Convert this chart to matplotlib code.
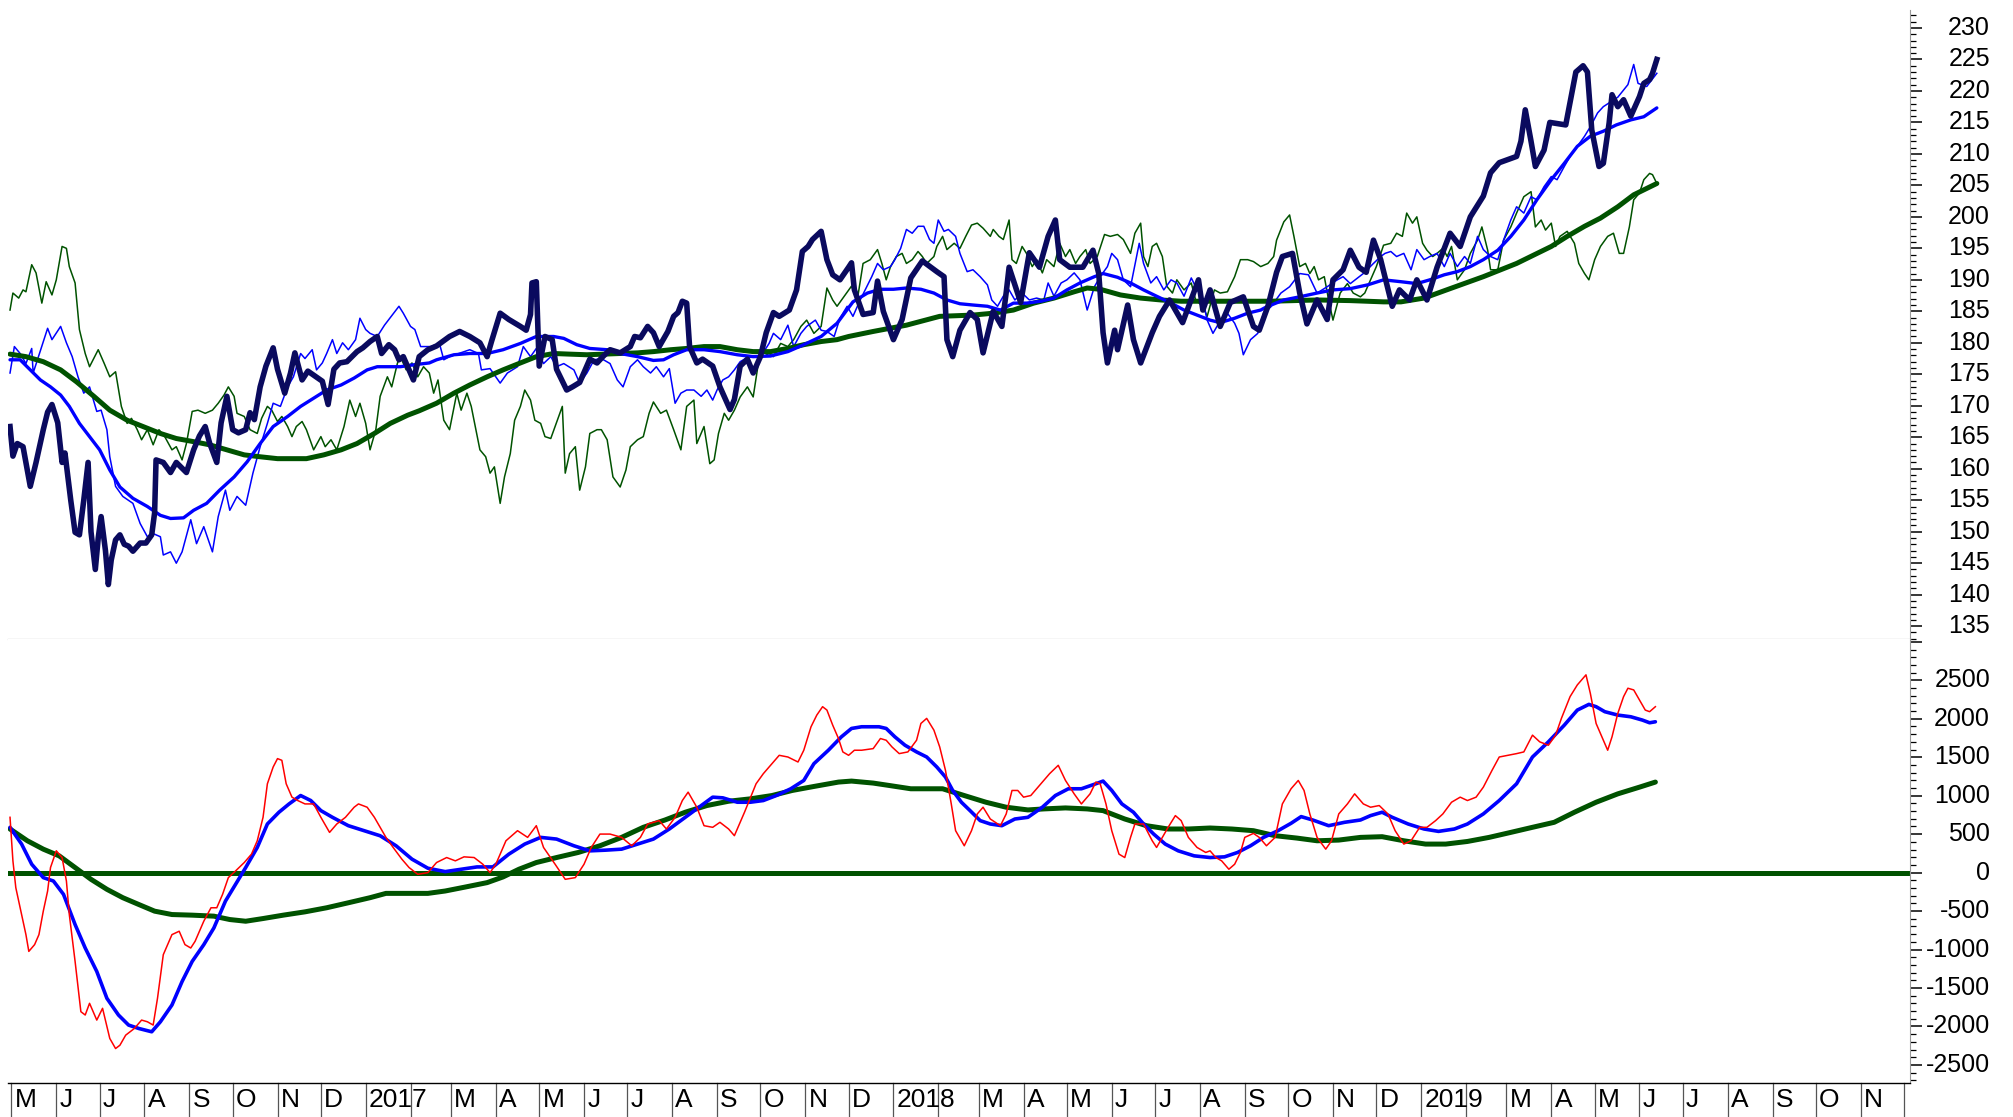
import numpy as np
import pandas as pd
import matplotlib
matplotlib.use("Agg")
import matplotlib.pyplot as plt
import matplotlib.transforms as mtransforms
from matplotlib.ticker import MultipleLocator, NullLocator

plt.rcParams['font.family'] = ['Liberation Sans', 'DejaVu Sans']

# day offsets are counted from this date
origin = pd.Timestamp('2016-05-01')

# ---------------- top panel ----------------
price_day = [-1, 1, 4, 8, 13, 17, 22, 25, 28, 32, 35, 37, 41, 44, 47, 50, 53, 55, 58, 60, 62, 65, 67, 69, 72, 75, 78, 81,
             84, 89, 93, 97, 99, 100, 105, 110, 114, 121, 126, 130, 134, 137, 142, 145, 149, 153, 157, 162, 165, 168,
             172, 176, 181, 184, 189, 193, 196, 201, 205, 210, 215, 219, 223, 227, 232, 239, 243, 248, 253, 256, 261,
             265, 268, 271, 278, 282, 288, 294, 303, 310, 317, 324, 329, 332, 338, 344, 352, 356, 359, 360, 363, 365,
             369, 374, 377, 384, 388, 393, 400, 405, 409, 414, 421, 428, 431, 435, 440, 444, 448, 454, 458, 461, 464,
             467, 469, 474, 478, 485, 490, 497, 500, 504, 509, 513, 518, 522, 527, 531, 538, 543, 547, 551, 554, 560,
             564, 568, 573, 579, 581, 583, 589, 596, 599, 603, 610, 616, 622, 630, 640, 645, 647, 651, 656, 663, 668,
             672, 679, 685, 688, 690, 698, 704, 711, 717, 722, 725, 732, 741, 748, 752, 755, 758, 763, 765, 772, 776,
             781, 789, 794, 801, 810, 821, 824, 829, 836, 843, 852, 859, 863, 869, 875, 879, 886, 891, 896, 903, 910,
             914, 921, 926, 932, 937, 942, 947, 955, 960, 967, 972, 979, 986, 995, 1002, 1009, 1018, 1023, 1029, 1041,
             1044, 1047, 1051, 1054, 1060, 1064, 1075, 1082, 1087, 1090, 1093, 1098, 1101, 1105, 1107, 1111, 1115,
             1120, 1126, 1129, 1133, 1135, 1138]
price_val = [166.7, 162, 164, 163.5, 157.2, 161, 166.2, 169, 170.2, 167.3, 161, 162.5, 155, 149.9, 149.5, 155, 161, 150,
             144, 149, 152.4, 147, 141.6, 145.5, 148.7, 149.5, 148, 147.7, 146.9, 148.2, 148.2, 149.5, 153, 161.4, 161,
             159.4, 161, 159.4, 163, 165.2, 166.7, 164.1, 161, 167.3, 171.5, 166.2, 165.7, 166.2, 168.9, 167.8, 173,
             176.3, 179.2, 175.8, 172, 175.2, 178.4, 174.1, 175.5, 174.7, 173.9, 170.2, 175.8, 176.8, 177, 178.6, 179.2,
             180.2, 181, 178.3, 179.7, 178.9, 177.3, 177.8, 174.1, 177.8, 178.9, 179.5, 181, 181.8, 181, 180, 177.8,
             180.2, 184.7, 183.7, 182.6, 182, 184.5, 189.5, 189.7, 176.3, 181, 180.5, 175.8, 172.5, 173, 173.7, 177.4,
             176.8, 177.8, 178.9, 178.4, 179.4, 181, 180.8, 182.6, 181.6, 179.4, 181.8, 184.2, 184.8, 186.6, 186.3,
             179.4, 176.8, 177.4, 176.3, 173, 169.4, 171, 176.3, 177.4, 175.2, 177.8, 181.6, 184.8, 184.2, 185.2, 188.4,
             194.5, 195.3, 196.4, 197.7, 193.2, 190.8, 190, 192, 192.7, 188.4, 184.5, 184.8, 189.8, 185, 180.5, 183.7,
             190.3, 193, 191.3, 190.5, 180.5, 177.8, 182, 184.8, 183.7, 178.4, 185, 182.6, 188, 192, 186.4, 194.3, 192,
             196.9, 199.5, 193.2, 192, 192, 194.7, 191, 181.6, 176.8, 182, 178.9, 186, 180.5, 176.8, 181.6, 184.2, 186.8,
             183.2, 190, 185.2, 188.4, 182.6, 186.4, 187.3, 182.6, 182, 185.8, 191.2, 193.7, 194.2, 187.9, 183, 186.8,
             183.7, 190, 191.6, 194.7, 192, 191.2, 196.3, 193.2, 185.8, 188.4, 186.8, 190, 186.8, 192, 197.4, 195.3,
             200, 203.3, 207, 208.6, 209.6, 212, 217, 212, 208, 210.6, 215, 214.6, 223, 224, 223, 213.8, 208, 208.5,
             214.9, 219.4, 217.5, 218.6, 216, 219.1, 221.2, 221.8, 222.8, 225]

tblue_day = [-1, 2, 6, 10, 14, 15, 25, 28, 34, 38, 42, 46, 50, 54, 59, 62, 66, 68, 72, 77, 84, 89, 94, 98, 103, 105,
             110, 114, 118, 124, 128, 133, 139, 143, 148, 151, 156, 162, 167, 172, 177, 181, 186, 191, 195, 200, 203,
             208, 211, 215, 218, 222, 225, 229, 233, 238, 241, 245, 248, 253, 258, 268, 271, 276, 279, 283, 290, 296,
             299, 303, 317, 323, 325, 331, 338, 343, 350, 354, 359, 363, 368, 373, 377, 382, 389, 393, 398, 403, 408,
             414, 419, 423, 428, 433, 437, 442, 446, 451, 455, 459, 463, 467, 472, 477, 481, 485, 488, 492, 496, 500,
             504, 510, 516, 519, 524, 527, 532, 537, 541, 546, 550, 556, 560, 564, 569, 573, 578, 582, 587, 595, 599,
             603, 608, 611, 615, 619, 623, 627, 631, 635, 638, 641, 645, 648, 653, 656, 661, 665, 670, 675, 678, 682,
             686, 690, 694, 699, 704, 709, 714, 717, 721, 726, 730, 735, 739, 744, 749, 753, 758, 761, 765, 769, 774,
             780, 783, 788, 792, 797, 802, 806, 811, 816, 819, 824, 827, 831, 835, 841, 846, 849, 852, 857, 862, 866,
             871, 878, 884, 891, 897, 903, 910, 917, 921, 926, 935, 942, 947, 950, 954, 958, 963, 968, 972, 977, 981,
             986, 991, 995, 1000, 1005, 1009, 1014, 1018, 1023, 1028, 1032, 1037, 1041, 1046, 1051, 1055, 1060, 1065,
             1069, 1074, 1078, 1083, 1088, 1092, 1097, 1101, 1111, 1118, 1122, 1125, 1131, 1138]
tblue_val = [175.2, 179.4, 178.3, 176.7, 179.1, 175.2, 182.3, 180.5, 182.6, 180, 177.8, 174.6, 172, 173, 169.1, 169.3,
             166.2, 161.9, 157.2, 155.6, 154.5, 151.3, 149.2, 149.7, 149.2, 146.3, 146.8, 145, 146.8, 151.9, 148.1,
             150.8, 146.8, 152.4, 156.6, 153.4, 155.6, 154.2, 159.3, 163.5, 167.2, 170.4, 169.9, 173, 174.6, 178.3,
             177.5, 178.9, 175.7, 176.8, 178.3, 180.5, 178.3, 180, 178.9, 180.5, 183.9, 182.1, 181.5, 181, 182.8, 185.8,
             184.7, 182.6, 182.1, 179.4, 179.4, 179.9, 177.3, 177.8, 178.9, 178.3, 175.7, 175.9, 173.6, 175.2, 176.2,
             179.4, 177.8, 179.1, 176.7, 177.8, 176.2, 176.7, 175.7, 173.6, 175.2, 177.3, 177.5, 176.7, 174.1, 173,
             176.2, 177.3, 176.2, 175.2, 176.2, 174.6, 175.9, 170.4, 172, 172.5, 172.5, 171.5, 172.5, 170.9, 172.5,
             174.1, 174.6, 175.7, 177, 177.8, 177.8, 178.1, 179.9, 181.5, 180.5, 182.8, 179.4, 181.5, 182.6, 183.6, 182,
             181.8, 181, 183.9, 185.8, 184.2, 186.8, 190.5, 192.6, 191.6, 192.1, 193.2, 195, 198, 197.4, 198.5, 198.5,
             196.4, 195.8, 199.5, 197.7, 198, 196.9, 194.2, 191.3, 191.6, 190.5, 189.2, 186.8, 185.8, 187.4, 188.4,
             186.8, 187.9, 186.8, 187.1, 186.8, 189.5, 187.4, 189.5, 190, 191.1, 190, 185.2, 188.9, 190.5, 192.1, 194.2,
             193.2, 190, 188.9, 195.8, 192.6, 189.5, 190.5, 188.4, 190, 189.5, 187.4, 190.3, 188.9, 186.8, 183.6, 181.5,
             183.1, 184.7, 183.1, 181.5, 178.1, 180.5, 181.5, 184.7, 185.7, 187.9, 188.9, 191, 190.8, 187.9, 188.9, 190,
             190.5, 189.4, 191, 192.6, 193.7, 194.2, 194.5, 193.7, 194.2, 191.6, 194.8, 193.2, 193.7, 194.2, 192.1,
             194.2, 192.1, 193.7, 192.6, 196.9, 194.8, 193.7, 193.2, 196.3, 199.5, 201.6, 200.6, 203.2, 202.7, 204.8,
             206.4, 205.9, 208, 209.6, 211.2, 212.8, 214.3, 216.5, 217.5, 219, 221, 224.2, 221.2, 220.7, 222.8]

tgreen_day = [-1, 1, 5, 8, 10, 14, 17, 21, 24, 28, 31, 35, 38, 40, 44, 47, 51, 54, 60, 64, 68, 72, 76, 80, 83, 87, 90,
              94, 98, 102, 106, 111, 114, 118, 121, 125, 129, 134, 139, 143, 147, 150, 154, 156, 161, 165, 170, 173,
              177, 180, 184, 187, 191, 194, 197, 201, 204, 209, 214, 217, 221, 225, 230, 234, 238, 241, 245, 248, 252,
              255, 260, 263, 267, 269, 273, 277, 281, 285, 289, 292, 295, 299, 303, 308, 311, 315, 318, 324, 328, 331,
              334, 338, 341, 345, 348, 352, 355, 359, 362, 366, 369, 373, 376, 381, 383, 386, 390, 393, 397, 400, 405,
              408, 412, 416, 421, 425, 428, 433, 437, 441, 444, 449, 453, 458, 463, 467, 472, 474, 479, 483, 486, 489,
              493, 496, 500, 504, 509, 513, 518, 520, 524, 527, 532, 537, 541, 546, 550, 555, 560, 564, 568, 571, 576,
              581, 585, 589, 594, 599, 602, 605, 608, 612, 616, 619, 623, 627, 630, 633, 638, 640, 644, 647, 652, 656,
              660, 664, 668, 672, 677, 679, 683, 686, 690, 692, 695, 699, 702, 706, 709, 713, 716, 721, 725, 729, 732,
              736, 739, 743, 746, 751, 756, 760, 765, 769, 774, 777, 781, 783, 786, 789, 792, 796, 799, 803, 806, 811,
              816, 819, 824, 827, 832, 836, 841, 846, 850, 855, 859, 864, 869, 873, 875, 880, 884, 887, 891, 895, 898,
              901, 904, 908, 911, 914, 919, 924, 928, 933, 936, 940, 944, 949, 954, 958, 962, 965, 969, 972, 976, 979,
              983, 986, 990, 993, 996, 1000, 1005, 1009, 1014, 1017, 1021, 1023, 1028, 1032, 1037, 1041, 1046, 1051,
              1054, 1058, 1061, 1065, 1068, 1071, 1076, 1081, 1084, 1088, 1091, 1095, 1099, 1104, 1108, 1112, 1115,
              1119, 1122, 1126, 1129, 1133, 1135, 1138]
tgreen_val = [185.2, 187.9, 187.1, 188.4, 188.1, 192.4, 191.1, 186.3, 189.7, 187.6, 190, 195.3, 195, 192.1, 189.5,
              182.1, 178.3, 176.2, 178.9, 176.8, 174.6, 175.4, 169.9, 167.2, 168, 166.2, 164.6, 166.2, 163.8, 166.2,
              165.1, 163, 163.5, 161.4, 164, 169.1, 169.3, 168.8, 169.3, 170.4, 171.7, 173, 171.5, 168.8, 168.3, 166.2,
              165.6, 168, 169.9, 169.3, 167.5, 168.3, 166.7, 165.1, 166.7, 167.5, 166.2, 163, 165.1, 163.5, 164.6, 163,
              166.7, 170.9, 168.3, 170.4, 167.2, 163, 166.2, 171.5, 174.6, 173, 176.8, 177.8, 175.7, 176.8, 174.6,
              176.2, 175.2, 172, 174.1, 167.7, 166.2, 172, 169.3, 172, 169.9, 163, 161.9, 159.3, 160.3, 154.5, 158.7,
              162.4, 167.7, 169.9, 172.5, 170.9, 167.7, 167.2, 165.1, 164.8, 166.7, 169.9, 159.3, 162.4, 163.5, 156.6,
              160.3, 165.6, 166.2, 166.2, 164.6, 158.7, 157.1, 159.8, 163.5, 164.6, 165.1, 168.8, 170.6, 168.8, 169.3,
              166.2, 163, 169.9, 170.9, 164, 166.7, 160.8, 161.4, 165.6, 168.8, 167.7, 169.3, 171.4, 173, 171.4, 178.9,
              177.8, 178.3, 177.8, 179.9, 179.4, 180.5, 182.6, 183.6, 181.5, 182.6, 188.7, 186.8, 185.8, 187.4, 189,
              186.8, 192.6, 193.2, 194.8, 192.6, 190, 192.1, 193.7, 194.2, 192.6, 193.2, 194.5, 193.7, 192.6, 193.7,
              195.3, 196.9, 194.8, 195.8, 195, 196.9, 198.7, 199, 198.2, 196.9, 198, 196.9, 196.4, 199.5, 193.2, 192.6,
              195.3, 194.2, 192.1, 193.2, 191.1, 193.2, 192.1, 195.8, 193.7, 194.8, 192.6, 193.7, 194.8, 192.6, 193.7,
              197.2, 196.9, 197.2, 196.4, 194.2, 197.4, 199, 193.7, 192.1, 195.3, 195.8, 193.7, 189, 187.9, 190, 188.4,
              189.5, 186.8, 185.8, 184.2, 188.4, 187.9, 188.1, 190.5, 193.2, 193.2, 192.9, 192.1, 192.6, 193.7, 196.3,
              199.2, 200.3, 196.9, 192.1, 192.6, 191, 192.1, 190, 190.5, 186.8, 183.6, 187.9, 189.4, 187.9, 187.3,
              187.9, 190, 192.1, 195.5, 195.8, 197.4, 196.9, 200.6, 199, 200, 195.8, 194.7, 193.7, 194.2, 195, 193.7,
              195.3, 190, 191.6, 194.2, 196.3, 198.4, 194.7, 191.6, 191.6, 196.3, 198.4, 200.6, 203.2, 204, 198.4,
              199.5, 197.9, 199, 195.3, 196.9, 197.7, 195.8, 192.6, 191, 190, 193.2, 195.3, 196.9, 197.4, 194.2, 194.2,
              198.4, 202.7, 203.8, 205.9, 206.9, 206.7, 205.3]

bma_day = [-1, 6, 13, 20, 27, 34, 40, 47, 54, 61, 68, 75, 84, 94, 103, 110, 119, 126, 135, 144, 154, 163, 172, 181, 191,
           200, 209, 218, 228, 237, 246, 253, 260, 269, 278, 289, 294, 306, 317, 329, 340, 352, 363, 375, 382, 391,
           400, 412, 421, 433, 444, 451, 458, 467, 479, 490, 502, 513, 525, 537, 548, 560, 571, 582, 592, 601, 610,
           619, 629, 638, 647, 656, 665, 675, 684, 693, 702, 712, 721, 730, 739, 749, 755, 765, 774, 783, 792, 802,
           811, 820, 829, 836, 846, 855, 864, 868, 880, 891, 903, 914, 926, 938, 949, 961, 972, 981, 991, 1000, 1009,
           1018, 1028, 1037, 1046, 1055, 1065, 1074, 1083, 1092, 1101, 1110, 1120, 1129, 1138]
bma_val = [177.3, 177.3, 175.7, 174.1, 173, 171.7, 169.9, 167.2, 165.1, 163, 159.8, 157.1, 155.3, 154, 152.6, 152.1,
           152.2, 153.4, 154.5, 156.6, 158.7, 161.1, 164, 166.7, 168.3, 169.9, 171.2, 172.5, 173.3, 174.4, 175.7, 176.2,
           176.2, 176.2, 176.5, 176.8, 177.3, 178.1, 178.3, 178.3, 178.9, 179.9, 181, 181, 180.7, 179.7, 179.1, 178.9,
           178.3, 177.8, 177.2, 177.3, 178.1, 178.9, 178.9, 178.6, 178.1, 177.8, 177.9, 178.6, 179.7, 181, 183.1,
           186.5, 187.9, 188.5, 188.5, 188.7, 188.5, 187.9, 186.8, 186.2, 186, 185.8, 185.2, 186.3, 186.3, 186.6,
           187.1, 188.4, 189.5, 190.5, 191, 190.4, 189.5, 188.4, 187.4, 186.3, 185.2, 184.4, 183.6, 183.2, 183.9,
           184.7, 185.2, 185.7, 186.8, 187.3, 187.9, 188.4, 188.6, 189.2, 190, 189.7, 189.4, 190, 190.8, 191.3, 192.1,
           193.2, 194.7, 196.9, 199.5, 202.7, 205.9, 208.5, 211.2, 212.8, 213.6, 214.6, 215.4, 215.9, 217.3]

gma_day = [-1, 10, 22, 34, 45, 57, 68, 80, 91, 103, 114, 126, 137, 149, 161, 172, 184, 195, 204, 216, 228, 239, 251,
           262, 274, 282, 294, 306, 317, 329, 340, 352, 363, 375, 386, 398, 410, 421, 433, 444, 456, 467, 479, 490,
           502, 513, 525, 537, 548, 560, 571, 579, 596, 619, 642, 665, 679, 693, 707, 721, 735, 744, 753, 767, 781,
           795, 809, 822, 836, 850, 871, 903, 926, 949, 961, 977, 995, 1018, 1041, 1065, 1076, 1088, 1099, 1111,
           1122, 1138]
gma_val = [178.2, 177.8, 177, 175.7, 173.8, 171.5, 169.3, 167.7, 166.7, 165.6, 164.8, 164.3, 163.8, 163, 162.2, 161.9,
           161.6, 161.6, 161.6, 162.2, 163, 164, 165.6, 167.2, 168.5, 169.2, 170.4, 172, 173.3, 174.6, 175.7, 176.8,
           177.8, 178.3, 178.2, 178.1, 178.2, 178.3, 178.4, 178.6, 178.9, 179.1, 179.4, 179.4, 178.9, 178.6, 178.6,
           179.1, 179.7, 180.2, 180.5, 181, 181.8, 182.8, 184.2, 184.4, 184.7, 185.2, 186.3, 187.1, 188.1, 188.7,
           188.5, 187.6, 187.1, 186.8, 186.6, 186.6, 186.6, 186.6, 186.6, 186.8, 186.7, 186.5, 186.5, 187.1, 188.6,
           190.5, 192.6, 195.3, 196.9, 198.5, 199.8, 201.6, 203.5, 205.3]

# ---------------- bottom panel ----------------
red_day = [-1, 1, 3, 7, 10, 12, 16, 19, 22, 25, 27, 31, 35, 38, 40, 44, 48, 51, 54, 59, 63, 68, 72, 75, 79, 85, 90, 94,
           98, 101, 105, 111, 116, 120, 124, 127, 133, 138, 142, 146, 150, 155, 161, 166, 170, 174, 177, 181, 184, 187,
           190, 194, 198, 203, 209, 214, 220, 225, 231, 237, 240, 246, 251, 259, 264, 270, 275, 281, 288, 294, 301,
           307, 313, 320, 326, 331, 335, 342, 350, 357, 363, 368, 376, 383, 390, 396, 401, 407, 414, 422, 429, 435,
           440, 448, 453, 459, 464, 468, 474, 479, 485, 490, 496, 500, 507, 515, 520, 526, 531, 537, 544, 548, 553,
           557, 561, 564, 568, 572, 575, 579, 583, 588, 596, 601, 605, 609, 614, 620, 626, 629, 633, 638, 642, 646,
           650, 653, 659, 664, 668, 672, 677, 684, 688, 692, 696, 700, 705, 713, 718, 724, 729, 735, 740, 746, 750,
           753, 757, 761, 766, 770, 774, 777, 783, 789, 792, 800, 805, 809, 814, 820, 826, 829, 833, 837, 842, 846,
           850, 853, 859, 863, 868, 874, 879, 885, 890, 894, 898, 903, 909, 913, 918, 924, 929, 935, 940, 946, 952,
           957, 963, 968, 974, 979, 985, 990, 996, 1002, 1007, 1013, 1018, 1024, 1029, 1035, 1041, 1046, 1052, 1057,
           1063, 1068, 1072, 1078, 1083, 1089, 1092, 1096, 1100, 1104, 1107, 1111, 1115, 1118, 1122, 1126, 1130, 1133,
           1137]
red_val = [719, 153, -196, -544, -806, -1024, -936, -806, -501, -239, 66, 284, 196, -109, -544, -1154, -1808, -1851,
           -1699, -1917, -1764, -2156, -2287, -2244, -2113, -2026, -1917, -1939, -1982, -1634, -1067, -806, -762, -936,
           -980, -893, -632, -457, -457, -283, -65, 22, 131, 240, 414, 719, 1155, 1373, 1482, 1460, 1155, 981, 937, 893,
           893, 719, 523, 632, 719, 850, 893, 850, 719, 458, 327, 175, 66, -22, 0, 131, 196, 153, 205, 196, 109, 0, 109,
           414, 545, 458, 610, 327, 109, -87, -65, 109, 327, 501, 501, 458, 349, 458, 632, 676, 567, 719, 937, 1046, 850,
           610, 589, 654, 567, 480, 785, 1155, 1286, 1416, 1525, 1503, 1438, 1591, 1896, 2048, 2157, 2113, 1917, 1743,
           1569, 1525, 1591, 1591, 1612, 1743, 1721, 1634, 1547, 1569, 1721, 1939, 2005, 1852, 1634, 1329, 893, 545,
           349, 545, 763, 850, 697, 610, 763, 1068, 1068, 981, 1002, 1177, 1286, 1395, 1198, 1024, 893, 1024, 1177,
           1155, 893, 545, 240, 196, 458, 632, 632, 414, 327, 589, 741, 676, 458, 327, 262, 283, 196, 153, 44, 109, 262,
           458, 510, 458, 349, 458, 893, 1090, 1198, 1068, 763, 458, 305, 414, 763, 893, 1024, 893, 850, 872, 763, 545,
           371, 414, 589, 589, 676, 763, 915, 981, 937, 981, 1111, 1329, 1503, 1525, 1547, 1569, 1787, 1700, 1656,
           1787, 2005, 2288, 2440, 2571, 2331, 1939, 1765, 1591, 1765, 2070, 2288, 2397, 2375, 2244, 2113, 2092, 2157]

bline_day = [-1, 7, 14, 22, 29, 36, 44, 51, 59, 66, 74, 81, 88, 97, 103, 111, 118, 125, 133, 140, 148, 155, 162, 170,
             177, 185, 192, 200, 207, 214, 222, 233, 244, 255, 266, 277, 288, 300, 311, 322, 333, 344, 355, 366, 377,
             389, 400, 411, 422, 433, 444, 455, 466, 477, 485, 492, 502, 511, 520, 529, 539, 548, 555, 565, 574, 581,
             588, 600, 605, 611, 618, 626, 633, 640, 646, 651, 657, 663, 670, 677, 685, 694, 703, 713, 722, 731, 740,
             750, 755, 761, 768, 776, 783, 790, 798, 807, 818, 829, 839, 848, 857, 866, 876, 885, 892, 900, 911, 922,
             933, 940, 948, 955, 966, 977, 987, 998, 1007, 1018, 1029, 1041, 1052, 1063, 1074, 1083, 1091, 1096, 1102,
             1111, 1120, 1128, 1133, 1137]
bline_val = [589, 371, 109, -65, -109, -283, -675, -980, -1285, -1634, -1851, -1982, -2026, -2069, -1939, -1721, -1416,
             -1154, -937, -719, -370, -152, 66, 327, 632, 785, 893, 1002, 937, 806, 719, 610, 545, 479, 349, 175, 57,
             13, 44, 74, 74, 240, 371, 458, 436, 349, 283, 292, 305, 371, 436, 567, 719, 872, 981, 972, 915, 915, 937,
             1002, 1090, 1198, 1416, 1591, 1765, 1874, 1896, 1896, 1874, 1765, 1656, 1569, 1503, 1373, 1242, 1068, 915,
             806, 676, 632, 610, 697, 719, 850, 1002, 1090, 1090, 1155, 1190, 1068, 893, 785, 632, 501, 371, 283, 218,
             196, 205, 262, 349, 458, 545, 641, 728, 684, 610, 654, 684, 741, 785, 719, 632, 567, 536, 567, 632, 763,
             937, 1155, 1503, 1700, 1917, 2113, 2187, 2157, 2092, 2048, 2026, 1983, 1948, 1961]

gline_day = [-1, 11, 22, 33, 44, 55, 66, 77, 88, 99, 111, 125, 140, 151, 162, 174, 188, 203, 218, 233, 248, 259, 274,
             288, 300, 314, 329, 340, 351, 363, 377, 392, 407, 422, 437, 452, 466, 481, 496, 511, 526, 540, 555, 572,
             581, 596, 607, 622, 644, 659, 674, 688, 703, 714, 729, 744, 755, 770, 785, 800, 814, 829, 844, 859, 874,
             889, 903, 918, 933, 948, 963, 978, 992, 1007, 1022, 1037, 1052, 1067, 1081, 1096, 1111, 1126, 1137]
gline_val = [567, 414, 305, 218, 66, -87, -217, -326, -414, -501, -545, -553, -566, -610, -632, -597, -553, -510, -457,
             -392, -326, -270, -270, -270, -239, -187, -130, -56, 44, 131, 196, 262, 349, 458, 589, 684, 785, 872, 928,
             959, 1002, 1068, 1120, 1177, 1190, 1164, 1133, 1090, 1090, 1002, 915, 850, 815, 828, 841, 828, 806, 697,
             610, 567, 567, 580, 567, 545, 480, 449, 414, 423, 458, 467, 414, 371, 371, 405, 458, 523, 589, 654, 785,
             915, 1024, 1111, 1177]

navy = '#0a0a5e'
blue = '#0000ff'
dgreen = '#005200'
red = '#ff0000'

W, H = 2013, 1117
fig = plt.figure(figsize=(W / 100, H / 100), dpi=100)
x0, x1 = 8 / W, 1910 / W
ax1 = fig.add_axes([x0, 478 / H, x1 - x0, (1107 - 478) / H])
ax2 = fig.add_axes([x0, 34 / H, x1 - x0, (478 - 34) / H])

xlim = (-2.4, 1313.1)

# top panel lines
ax1.plot(tgreen_day, tgreen_val, color=dgreen, lw=1.1)
ax1.plot(tblue_day, tblue_val, color=blue, lw=1.1)
ax1.plot(gma_day, gma_val, color=dgreen, lw=3.6, solid_capstyle='round')
ax1.plot(bma_day, bma_val, color=blue, lw=2.4, solid_capstyle='round')
ax1.plot(price_day, price_val, color=navy, lw=4.0, solid_joinstyle='round')
ax1.set_ylim(132.96, 232.85)

# bottom panel lines
ax2.axhline(0, color=dgreen, lw=3.6)
ax2.plot(gline_day, gline_val, color=dgreen, lw=3.6, solid_capstyle='round')
ax2.plot(bline_day, bline_val, color=blue, lw=2.6, solid_capstyle='round')
ax2.plot(red_day, red_val, color=red, lw=1.1)
ax2.set_ylim(-2735, 3037)

for ax, major, minor in [(ax1, 5, 1), (ax2, 500, 100)]:
    ax.set_xlim(*xlim)
    ax.xaxis.set_major_locator(NullLocator())
    ax.yaxis.tick_right()
    ax.yaxis.set_major_locator(MultipleLocator(major))
    ax.yaxis.set_minor_locator(MultipleLocator(minor))
    ax.tick_params(axis='y', which='major', length=8.5, width=1.1, direction='out', labelright=False, color='black')
    ax.tick_params(axis='y', which='minor', length=4.3, width=0.9, direction='out', color='black')
    for s in ['left', 'top']:
        ax.spines[s].set_visible(False)
    ax.spines['right'].set_color('#9a9a9a')
    ax.spines['right'].set_linewidth(0.8)

ax1.spines['bottom'].set_color('#d4d4d4')
ax1.spines['bottom'].set_linewidth(1.0)
ax2.spines['bottom'].set_color('black')
ax2.spines['bottom'].set_linewidth(1.0)

# right-aligned value labels
lab_x = 1 + 80 / 1902
for ax, vals in [(ax1, range(135, 231, 5)), (ax2, range(-2500, 2501, 500))]:
    tr = mtransforms.blended_transform_factory(ax.transAxes, ax.transData)
    for v in vals:
        ax.text(lab_x, v, str(v), transform=tr, ha='right', va='center', fontsize=18, clip_on=False)

# month strip under the bottom panel (February carries no letter, the year runs into it)
months = pd.date_range('2016-05-01', '2019-12-01', freq='MS')
trx = mtransforms.blended_transform_factory(ax2.transData, ax2.transAxes)
strip = 34 / 444
for m in months:
    d = (m - origin).days
    ax2.plot([d, d], [0, -strip], transform=trx, color='#555555', lw=0.9, clip_on=False)
    if m == months[-1] or m.month == 2:
        continue
    lab = str(m.year) if m.month == 1 else m.strftime('%b')[0]
    ax2.text(d + 2.2, -strip / 2, lab, transform=trx, ha='left', va='center', fontsize=19,
             family=['Liberation Sans Narrow', 'Liberation Sans', 'DejaVu Sans'], clip_on=False)

fig.savefig('out.png', dpi=100)
